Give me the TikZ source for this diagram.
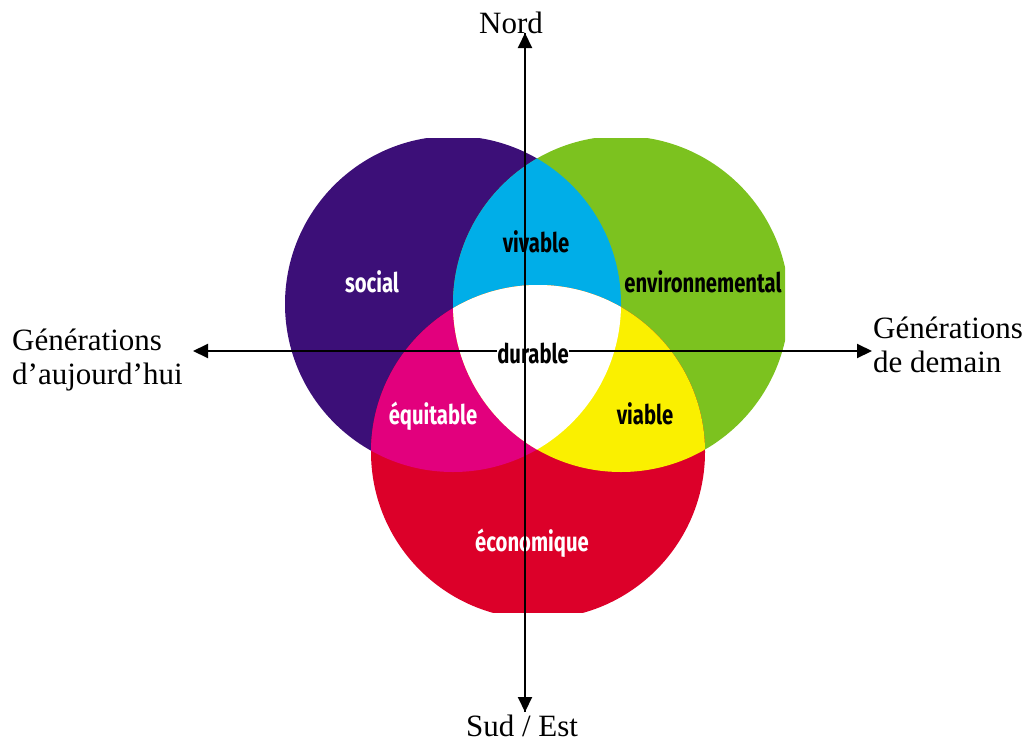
\documentclass[tikz,border=0pt]{standalone}
\usepackage{fontspec}
\setmainfont{Liberation Serif}
\newfontfamily\vennfont{Fira Sans}[FakeStretch=0.75]
\usetikzlibrary{arrows.meta}
\definecolor{socialcol}{HTML}{3C0F78}
\definecolor{envcol}{HTML}{7CC21F}
\definecolor{ecocol}{HTML}{DC0029}
\definecolor{vivcol}{HTML}{00AEE8}
\definecolor{equcol}{HTML}{E2007D}
\definecolor{viacol}{HTML}{FAF000}
\def\circsocial{(453,304) circle (168pt)}
\def\circenv{(621,304) circle (168pt)}
\def\circeco{(538,452) circle (167pt)}
\begin{document}
\begin{tikzpicture}[x=1pt,y=-1pt,
    axis/.style={line width=2pt,-{Triangle[length=15pt,width=14pt]}},
    outer/.style={font=\fontsize{31}{34}\selectfont,inner sep=0pt},
    venn/.style={font=\vennfont\bfseries\fontsize{27}{30}\selectfont,inner sep=0pt}]
  \useasboundingbox (0,0) rectangle (1030,744);
  % les trois cercles
  \begin{scope}
    \clip (285,138) rectangle (785,612);
    \fill[socialcol] \circsocial; \fill[envcol] \circenv; \fill[ecocol] \circeco;
    \begin{scope} \clip \circsocial; \fill[vivcol] \circenv; \end{scope}
    \begin{scope} \clip \circsocial; \fill[equcol] \circeco; \end{scope}
    \begin{scope} \clip \circenv; \fill[viacol] \circeco; \end{scope}
    \begin{scope} \clip \circsocial; \clip \circenv; \fill[white] \circeco; \end{scope}
  \end{scope}
  \node[venn,white] (social) at (372,282) {social};
  \node[venn] (vivable) at (536,242) {vivable};
  \node[venn] (env) at (703,282) {environnemental};
  \node[venn,white] (equitable) at (433,416) {équitable};
  \node[venn] (viable) at (645,414) {viable};
  \node[venn,white] (eco) at (532,543) {économique};
  \node[venn] (durable) at (533,353) {durable};
  % axes
  \coordinate (ntip) at (525,33); \coordinate (stip) at (525,712);
  \coordinate (wtip) at (193,351); \coordinate (etip) at (872,351);
  \draw[axis] (stip) -- (ntip);
  \draw[axis] (ntip) -- (stip);
  \draw[axis] (durable.west |- wtip) -- (wtip);
  \draw[axis] (durable.east |- etip) -- (etip);
  \node[outer,anchor=base] (nord) at (511,33) {Nord};
  \node[outer,anchor=base] (sud) at (522,736) {Sud / Est};
  \node[outer,anchor=base west,align=left] (auj) at (12,384) {Générations\\d’aujourd’hui};
  \node[outer,anchor=base west,align=left] (demain) at (873,372) {Générations\\de demain};
\end{tikzpicture}
\end{document}
